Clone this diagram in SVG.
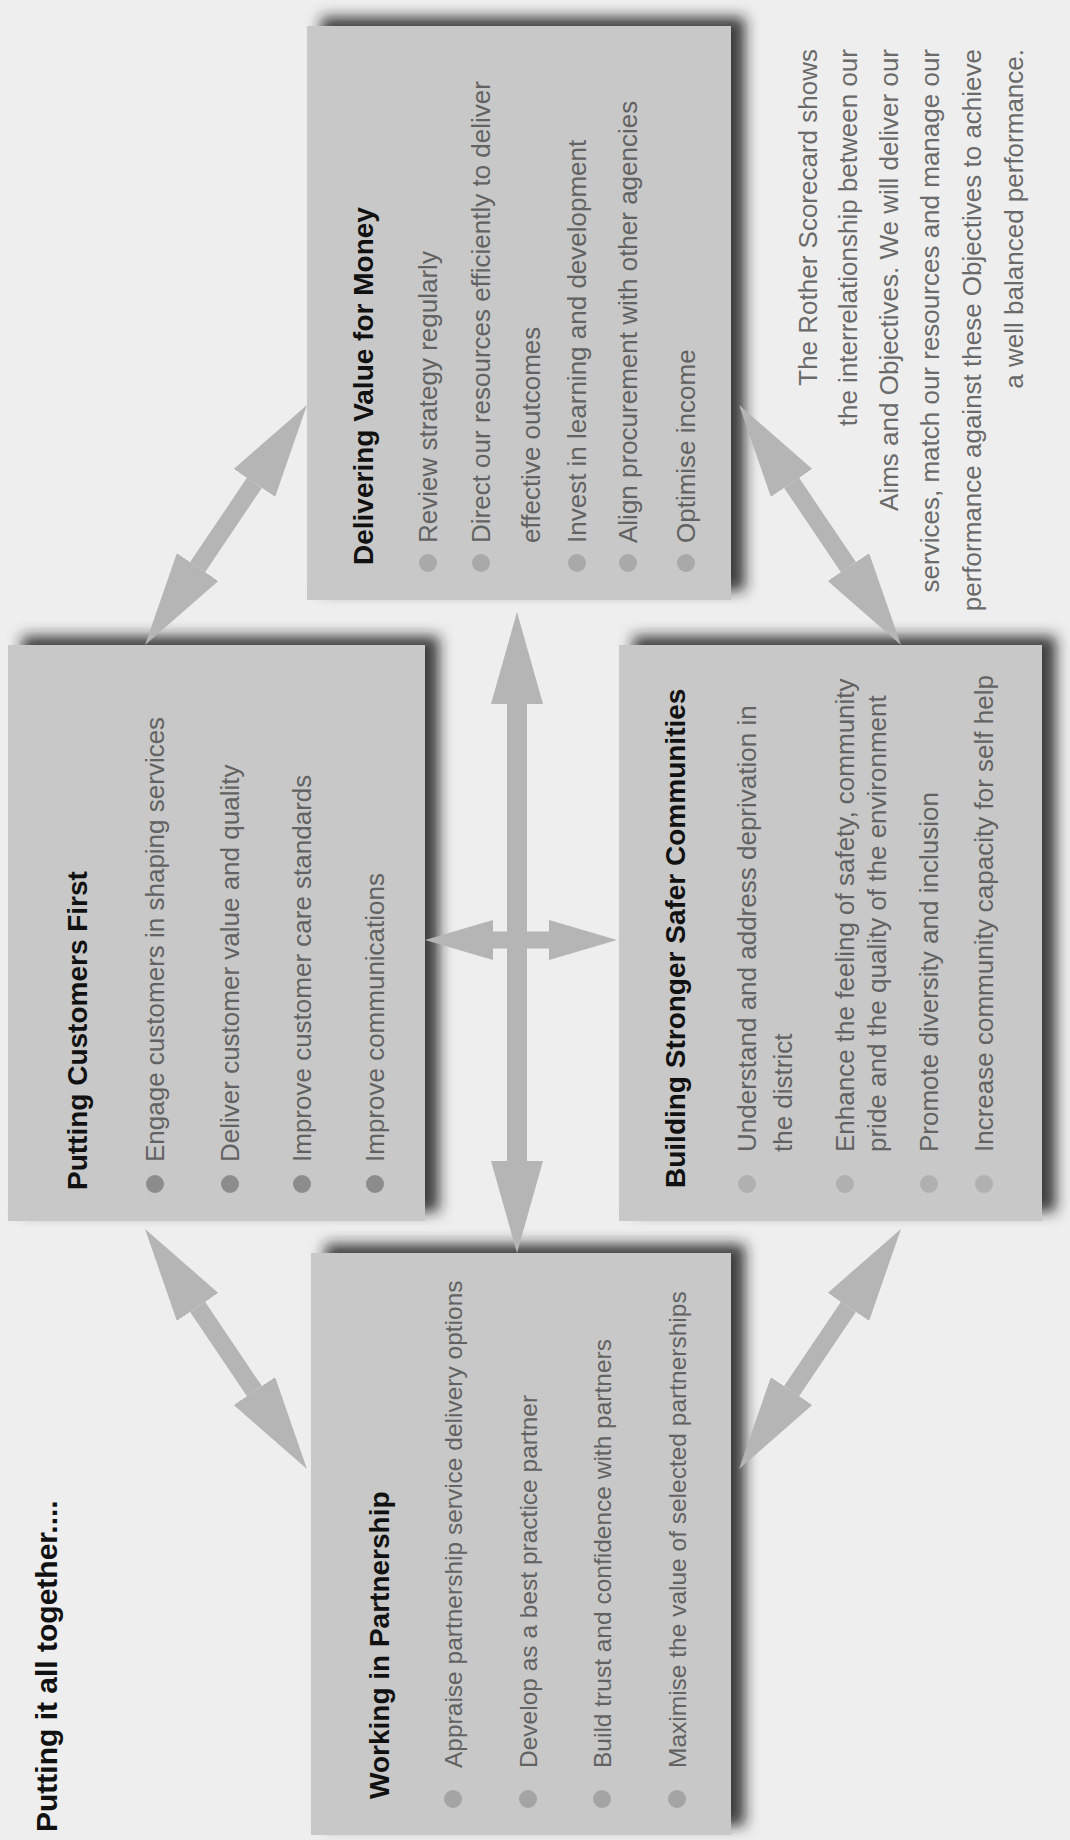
<svg xmlns="http://www.w3.org/2000/svg" width="1070" height="1840" viewBox="0 0 1070 1840">
<defs>
<style>
.bg{fill:#edeeed;}
.box{fill:#c7c8c7;}
.ttl{font-family:"Liberation Sans",Arial,sans-serif;font-weight:bold;font-size:28px;fill:#111;}
.it{font-family:"Liberation Sans",Arial,sans-serif;font-size:26px;fill:#626262;}
.par{font-family:"Liberation Sans",Arial,sans-serif;font-size:26px;fill:#6a6a6a;text-anchor:end;}
.conn{stroke:#b5b5b5;fill:none;stroke-linecap:butt;}
.big{stroke-width:20;marker-start:url(#hL);marker-end:url(#hL);}
.dg{stroke-width:18;marker-start:url(#hD);marker-end:url(#hD);}
.sm{stroke-width:17;marker-start:url(#hS);marker-end:url(#hS);}
</style>
<filter id="sh" x="-10%" y="-10%" width="125%" height="125%">
<feDropShadow dx="9" dy="14" stdDeviation="7" flood-color="#1e1e1e" flood-opacity="0.85"/>
</filter>
<marker id="hL" markerUnits="userSpaceOnUse" markerWidth="92" markerHeight="52" viewBox="0 -26 92 52" refX="0" refY="0" orient="auto-start-reverse"><path d="M0,-26 L92,0 L0,26 Z" fill="#b5b5b5"/></marker>
<marker id="hD" markerUnits="userSpaceOnUse" markerWidth="94" markerHeight="50" viewBox="0 -25 94 50" refX="0" refY="0" orient="auto-start-reverse"><path d="M0,-25 L94,0 L0,25 Z" fill="#b5b5b5"/></marker>
<marker id="hS" markerUnits="userSpaceOnUse" markerWidth="68" markerHeight="40" viewBox="0 -20 68 40" refX="0" refY="0" orient="auto-start-reverse"><path d="M0,-20 L68,0 L0,20 Z" fill="#b5b5b5"/></marker>
</defs>
<rect class="bg" x="0" y="0" width="1070" height="1840"/>
<g transform="translate(0 1840) rotate(-90)">
<text id="heading" class="ttl" x="8" y="57" style="font-size:30px">Putting it all together....</text>

<g id="node-working">
<rect class="box" x="5" y="311" width="582" height="420" filter="url(#sh)"/>
<text class="ttl" x="41" y="389">Working in Partnership</text>
<g fill="#a4a4a4"><circle cx="41" cy="453" r="9"/><circle cx="41" cy="528" r="9"/><circle cx="41" cy="602" r="9"/><circle cx="41" cy="677" r="9"/></g>
<g class="it" style="font-size:24.5px">
<text x="72" y="462">Appraise partnership service delivery options</text>
<text x="72" y="537">Develop as a best practice partner</text>
<text x="72" y="611">Build trust and confidence with partners</text>
<text x="72" y="686">Maximise the value of selected partnerships</text>
</g>
</g>

<g id="node-customers">
<rect class="box" x="619" y="8" width="576" height="417" filter="url(#sh)"/>
<text class="ttl" x="650" y="87">Putting Customers First</text>
<g fill="#8c8c8c"><circle cx="656" cy="155" r="9"/><circle cx="656" cy="230" r="9"/><circle cx="656" cy="302" r="9"/><circle cx="656" cy="375" r="9"/></g>
<g class="it">
<text x="678" y="164">Engage customers in shaping services</text>
<text x="678" y="239">Deliver customer value and quality</text>
<text x="678" y="311">Improve customer care standards</text>
<text x="678" y="384">Improve communications</text>
</g>
</g>

<g id="node-building">
<rect class="box" x="619" y="619" width="576" height="423" filter="url(#sh)"/>
<text class="ttl" x="652" y="685">Building Stronger Safer Communities</text>
<g fill="#b0b0b0"><circle cx="656" cy="747" r="9"/><circle cx="656" cy="845" r="9"/><circle cx="656" cy="929" r="9"/><circle cx="656" cy="984" r="9"/></g>
<g class="it">
<text x="688" y="756">Understand and address deprivation in</text>
<text x="688" y="792">the district</text>
<text x="688" y="854">Enhance the feeling of safety, community</text>
<text x="688" y="886">pride and the quality of the environment</text>
<text x="688" y="938">Promote diversity and inclusion</text>
<text x="688" y="993">Increase community capacity for self help</text>
</g>
</g>

<g id="node-delivering">
<rect class="box" x="1240" y="307" width="574" height="424" filter="url(#sh)"/>
<text class="ttl" x="1275" y="373">Delivering Value for Money</text>
<g fill="#a9a9a9"><circle cx="1277" cy="428" r="9"/><circle cx="1277" cy="481" r="9"/><circle cx="1277" cy="577" r="9"/><circle cx="1277" cy="628" r="9"/><circle cx="1277" cy="686" r="9"/></g>
<g class="it">
<text x="1297" y="437">Review strategy regularly</text>
<text x="1297" y="490">Direct our resources efficiently to deliver</text>
<text x="1297" y="540">effective outcomes</text>
<text x="1297" y="586">Invest in learning and development</text>
<text x="1297" y="637">Align procurement with other agencies</text>
<text x="1297" y="695">Optimise income</text>
</g>
</g>

<g id="note" class="par">
<text x="1791" y="817">The Rother Scorecard shows</text>
<text x="1791" y="857">the interrelationship between our</text>
<text x="1791" y="898">Aims and Objectives. We will deliver our</text>
<text x="1791" y="939">services, match our resources and manage our</text>
<text x="1791" y="981">performance against these Objectives to achieve</text>
<text x="1791" y="1023">a well balanced performance.</text>
</g>

<g id="connectors" class="conn">
<line class="big" x1="679" y1="517" x2="1136" y2="517"/>
<line class="sm" x1="900" y1="493" x2="900" y2="549"/>
<line class="dg" x1="1357.1" y1="254.4" x2="1272.9" y2="197.6"/>
<line class="dg" x1="1357.1" y1="791.6" x2="1272.9" y2="848.4"/>
<line class="dg" x1="533.1" y1="197.6" x2="448.9" y2="254.4"/>
<line class="dg" x1="533.1" y1="848.4" x2="448.9" y2="791.6"/>
</g>
</g>
</svg>
